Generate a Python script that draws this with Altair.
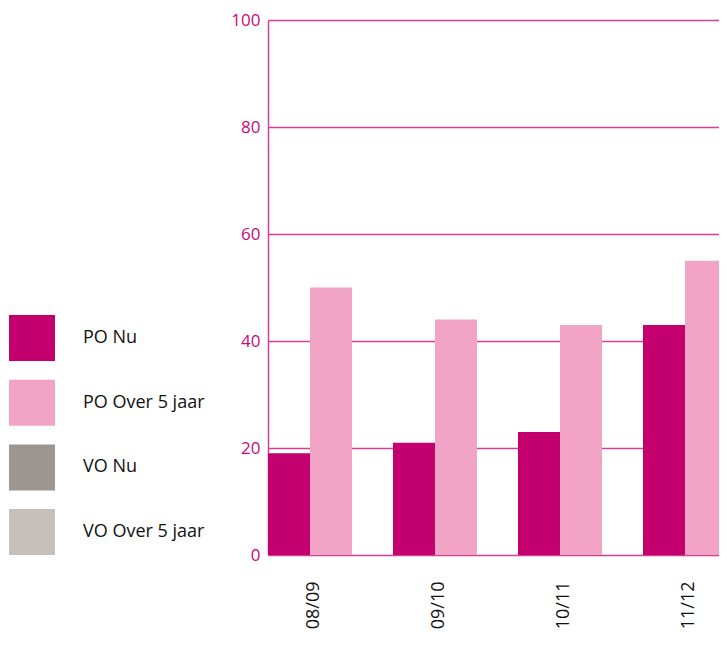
import altair as alt
import pandas as pd

years = ["08/09", "09/10", "10/11", "11/12"]
po_nu = [19, 21, 23, 43]
po_over = [50, 44, 43, 55]
series_names = ["PO Nu", "PO Over 5 jaar", "VO Nu", "VO Over 5 jaar"]
series_colors = ["#C4006E", "#F1A4C5", "#9B9692", "#C7C0BA"]
y_ticks = [0, 20, 40, 60, 80, 100]

rows = []
for i, yr in enumerate(years):
    rows.append({"jaar": yr, "serie": "PO Nu", "waarde": po_nu[i]})
    rows.append({"jaar": yr, "serie": "PO Over 5 jaar", "waarde": po_over[i]})
df = pd.DataFrame(rows)

FONT = "Open Sans"
MAGENTA = "#C8087B"

chart = alt.Chart(df).mark_bar().encode(
    x=alt.X("jaar:N", sort=years, title=None,
            scale=alt.Scale(paddingInner=0.328, paddingOuter=0, range=[0, 459]),
            axis=alt.Axis(labelAngle=270, labelPadding=26, labelFontSize=18,
                          labelColor="#111111", labelFont=FONT, ticks=False,
                          domain=False, grid=False, labelOffset=4)),
    xOffset=alt.XOffset("serie:N", sort=series_names[:2],
                        scale=alt.Scale(domain=series_names[:2], paddingInner=0, paddingOuter=0)),
    y=alt.Y("waarde:Q", title=None,
            scale=alt.Scale(domain=[0, 100], nice=False),
            axis=alt.Axis(values=y_ticks, ticks=False, labelPadding=8, labelFontSize=17,
                          labelColor=MAGENTA, labelFont=FONT, domain=True,
                          domainColor="#D63E95", domainWidth=1.5,
                          gridColor="#D63E95", gridWidth=1.5, gridOpacity=1)),
    color=alt.Color("serie:N",
                    scale=alt.Scale(domain=series_names, range=series_colors),
                    legend=alt.Legend(title=None, orient="none", legendX=-259, legendY=295,
                                      symbolType="square", symbolSize=2116,
                                      symbolStrokeWidth=0, symbolOpacity=1,
                                      labelFontSize=18, labelFont=FONT, labelColor="#111111",
                                      labelOffset=28, rowPadding=18.7, padding=0,
                                      labelLimit=300)),
).properties(
    width=451, height=535,
    autosize=alt.AutoSizeParams(type="none"),
    padding={"left": 260, "top": 12, "right": 0, "bottom": 80},
).configure_view(stroke=None)

chart.save("out.html", embed_options={"renderer": "svg", "actions": False})
